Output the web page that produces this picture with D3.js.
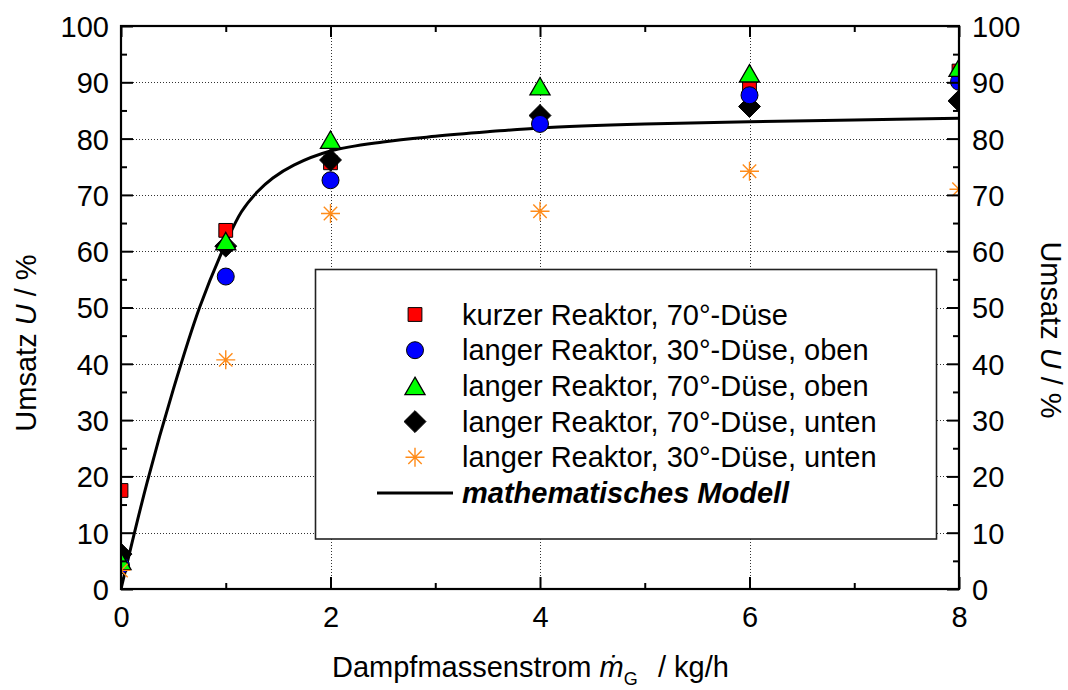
<!DOCTYPE html>
<html>
<head>
<meta charset="utf-8">
<script src="https://cdn.jsdelivr.net/npm/d3@7"></script>
<style>
  html, body { margin: 0; padding: 0; background: #fff; }
  svg { display: block; font-family: "Liberation Sans", Arial, sans-serif; }
</style>
</head>
<body>
<svg id="chart" width="1068" height="690"></svg>
<script>
// Steam mass flow (kg/h) at which conversion was measured
const massFlow = [0, 1, 2, 4, 6, 8];

// Conversion U in % for each reactor / nozzle configuration
const shortReactor70 = [17.5, 63.7, 75.7, 83.0, 89.5, 92.0];
const longReactor30Top = [4.2, 55.5, 72.6, 82.6, 87.7, 90.1];
const longReactor70Top = [5.0, 61.8, 79.8, 89.3, 91.6, 92.6];
const longReactor70Bottom = [6.2, 60.9, 76.2, 84.1, 85.7, 86.7];
const longReactor30Bottom = [3.3, 40.7, 66.7, 67.1, 74.2, 71.0];

// Model curve (mass flow, conversion)
const modelX = [0, 0.25, 0.5, 0.75, 1.0, 1.15, 1.3, 1.45, 1.65, 2.0, 2.5, 3.0, 3.5, 4.0, 5.0, 6.0, 7.0, 8.0];
const modelY = [0, 19, 35.5, 50, 61.4, 67, 70.5, 73, 75.3, 77.8, 79.4, 80.4, 81.2, 81.9, 82.6, 83.0, 83.3, 83.6];

// Axis ticks
const xMajorTicks = [0, 2, 4, 6, 8];
const xMinorTicks = [1, 3, 5, 7];
const yMajorTicks = [0, 10, 20, 30, 40, 50, 60, 70, 80, 90, 100];
const yMinorTicks = [5, 15, 25, 35, 45, 55, 65, 75, 85, 95];

const legendLabels = [
  "kurzer Reaktor, 70°-Düse",
  "langer Reaktor, 30°-Düse, oben",
  "langer Reaktor, 70°-Düse, oben",
  "langer Reaktor, 70°-Düse, unten",
  "langer Reaktor, 30°-Düse, unten",
  "mathematisches Modell"
];

const svg = d3.select("#chart");
const plotLeft = 121, plotRight = 959, plotTop = 26, plotBottom = 589;

const x = d3.scaleLinear().domain([0, 8]).range([plotLeft, plotRight]);
const y = d3.scaleLinear().domain([0, 100]).range([plotBottom, plotTop]);

const FONT = 29;

// 8-armed star marker
const star8 = {
  draw(ctx, size) {
    const r = Math.sqrt(size) / 2;
    for (let k = 0; k < 4; k++) {
      const a = k * Math.PI / 4;
      ctx.moveTo(-r * Math.cos(a), -r * Math.sin(a));
      ctx.lineTo(r * Math.cos(a), r * Math.sin(a));
    }
  }
};
// diamond as a square turned by 45°
const diamond45 = {
  draw(ctx, size) {
    const r = Math.sqrt(size * 2) / 2;
    ctx.moveTo(0, -r); ctx.lineTo(r, 0); ctx.lineTo(0, r); ctx.lineTo(-r, 0); ctx.closePath();
  }
};
// upward triangle centred at its bbox middle
const triUp = {
  draw(ctx, size) {
    const w = Math.sqrt(size * 4 / Math.sqrt(3));
    const h = w * Math.sqrt(3) / 2;
    ctx.moveTo(0, -h / 2); ctx.lineTo(w / 2, h / 2); ctx.lineTo(-w / 2, h / 2); ctx.closePath();
  }
};

const seriesList = [
  { values: shortReactor70, type: d3.symbolSquare, size: 190, fill: "#ff0000", stroke: "#000", sw: 1 },
  { values: longReactor70Bottom, type: diamond45, size: 240, fill: "#000000", stroke: "#000", sw: 1 },
  { values: longReactor30Top, type: d3.symbolCircle, size: 227, fill: "#0000ff", stroke: "#000", sw: 1 },
  { values: longReactor70Top, type: triUp, size: 175, fill: "#00ff00", stroke: "#000", sw: 1.3 },
  { values: longReactor30Bottom, type: star8, size: 361, fill: "none", stroke: "#ff8c1a", sw: 1.4 }
];
// legend order
const legendSeries = [seriesList[0], seriesList[2], seriesList[3], seriesList[1], seriesList[4]];

svg.append("rect").attr("width", 1068).attr("height", 690).attr("fill", "#fff");

svg.append("defs").append("clipPath").attr("id", "plotClip")
  .append("rect").attr("x", plotLeft).attr("y", plotTop)
  .attr("width", plotRight - plotLeft).attr("height", plotBottom - plotTop);

// dotted grid
const grid = svg.append("g").attr("stroke", "#333").attr("stroke-width", 1).attr("stroke-dasharray", "1,2");
grid.selectAll("line.gx").data(xMajorTicks.slice(1, -1)).join("line")
  .attr("x1", d => Math.round(x(d)) + 0.5).attr("x2", d => Math.round(x(d)) + 0.5)
  .attr("y1", plotTop).attr("y2", plotBottom);
grid.selectAll("line.gy").data(yMajorTicks.slice(1, -1)).join("line")
  .attr("y1", d => Math.round(y(d)) + 0.5).attr("y2", d => Math.round(y(d)) + 0.5)
  .attr("x1", plotLeft).attr("x2", plotRight);

// model curve
const plot = svg.append("g").attr("clip-path", "url(#plotClip)");
const line = d3.line().x(d => x(d[0])).y(d => y(d[1])).curve(d3.curveCatmullRom.alpha(0.5));
plot.append("path").datum(modelX.map((v, i) => [v, modelY[i]]))
  .attr("d", line).attr("fill", "none").attr("stroke", "#000").attr("stroke-width", 3)
  .attr("stroke-linejoin", "round");

// legend box (above the curve, below the markers)
const lg = svg.append("g");
lg.append("rect").attr("x", 315.5).attr("y", 269.5).attr("width", 621).attr("height", 269.5)
  .attr("fill", "#fff").attr("stroke", "#222").attr("stroke-width", 1.6);

// markers
const marks = svg.append("g").attr("clip-path", "url(#plotClip)");
seriesList.forEach(s => {
  const sym = d3.symbol().type(s.type).size(s.size);
  marks.append("g").selectAll("path").data(s.values).join("path")
    .attr("transform", (d, i) => `translate(${x(massFlow[i])},${y(d)})`)
    .attr("d", sym).attr("fill", s.fill).attr("stroke", s.stroke).attr("stroke-width", s.sw);
});

// legend entries
const rowY = i => 314.5 + i * 35.7;
legendSeries.forEach((s, i) => {
  lg.append("path").attr("transform", `translate(415,${rowY(i)})`)
    .attr("d", d3.symbol().type(s.type).size(s.size)())
    .attr("fill", s.fill).attr("stroke", s.stroke).attr("stroke-width", s.sw);
});
lg.append("line").attr("x1", 377).attr("x2", 453).attr("y1", rowY(5)).attr("y2", rowY(5))
  .attr("stroke", "#000").attr("stroke-width", 3);
lg.selectAll("text").data(legendLabels).join("text")
  .attr("x", 462).attr("y", (d, i) => rowY(i) + 10)
  .attr("font-size", FONT).attr("fill", "#000")
  .attr("font-style", (d, i) => i === 5 ? "italic" : "normal")
  .attr("font-weight", (d, i) => i === 5 ? "bold" : "normal")
  .text(d => d);

// frame
svg.append("rect").attr("x", plotLeft).attr("y", plotTop)
  .attr("width", plotRight - plotLeft).attr("height", plotBottom - plotTop)
  .attr("fill", "none").attr("stroke", "#000").attr("stroke-width", 2.2);

// axes with inward ticks
function addAxis(axisFn, scale, ticks, size, transform, labels) {
  const ax = axisFn(scale).tickValues(ticks).tickSizeInner(-size).tickSizeOuter(0);
  if (!labels) ax.tickFormat("");
  const g = svg.append("g").attr("transform", transform).call(ax);
  g.select(".domain").remove();
  g.selectAll(".tick line").attr("stroke", "#000").attr("stroke-width", 2);
  g.selectAll(".tick text").attr("font-size", FONT)
    .attr("font-family", "Liberation Sans, Arial, sans-serif").attr("fill", "#000");
  return g;
}
const gb = addAxis(d3.axisBottom, x, xMajorTicks, 12, `translate(0,${plotBottom})`, true);
gb.selectAll(".tick text").attr("y", 17).attr("dy", "0.71em");
addAxis(d3.axisBottom, x, xMinorTicks, 6, `translate(0,${plotBottom})`, false);
addAxis(d3.axisTop, x, xMajorTicks, 11, `translate(0,${plotTop})`, false);
addAxis(d3.axisTop, x, xMinorTicks, 6, `translate(0,${plotTop})`, false);
const gl = addAxis(d3.axisLeft, y, yMajorTicks, 12, `translate(${plotLeft},0)`, true);
gl.selectAll(".tick text").attr("x", -12).attr("dy", "0.36em");
addAxis(d3.axisLeft, y, yMinorTicks, 6, `translate(${plotLeft},0)`, false);
const gr = addAxis(d3.axisRight, y, yMajorTicks, 12, `translate(${plotRight},0)`, true);
gr.selectAll(".tick text").attr("x", 13).attr("dy", "0.36em");
addAxis(d3.axisRight, y, yMinorTicks, 6, `translate(${plotRight},0)`, false);

// x axis title
const xt = svg.append("text").attr("x", 332).attr("y", 677).attr("font-size", FONT).attr("fill", "#000");
xt.append("tspan").text("Dampfmassenstrom ");
xt.append("tspan").attr("font-style", "italic").text("m\u0307");
xt.append("tspan").attr("font-size", 18).attr("dy", 8).text("G");
xt.append("tspan").attr("dy", -8).text("\u2002\u2009/ kg/h");

// y axis titles (left and right)
function yTitle(tx, ty, rot) {
  const t = svg.append("text").attr("transform", `translate(${tx},${ty}) rotate(${rot})`)
    .attr("text-anchor", "middle").attr("font-size", FONT).attr("fill", "#000");
  t.append("tspan").text("Umsatz ");
  t.append("tspan").attr("font-style", "italic").text("U");
  t.append("tspan").text("  / %");
}
yTitle(36, 343, -90);
yTitle(1041, 330, 90);
</script>
</body>
</html>
